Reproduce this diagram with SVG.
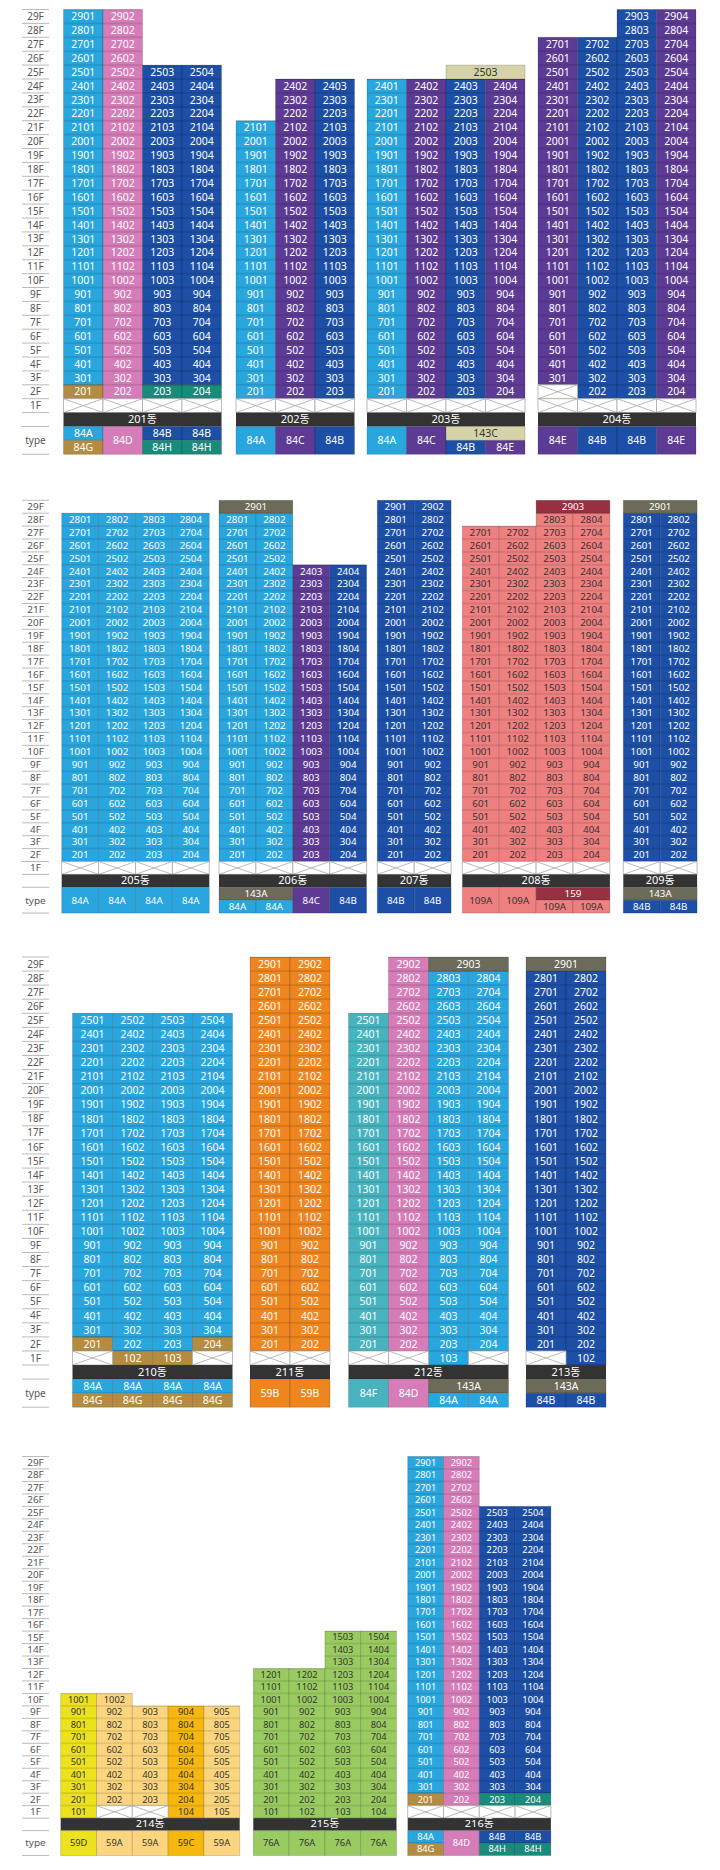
<svg xmlns="http://www.w3.org/2000/svg" width="720" height="1870" viewBox="0 0 720 1870">
<style>
text{font-family:"Noto Sans","Noto Sans CJK KR","Liberation Sans",sans-serif;font-size:10.5px;text-anchor:middle}
.s2 text{font-size:9.8px}
.s4 text{font-size:9.3px}
.w text{fill:#fff}
.k text{fill:#333}
.fl text{fill:#555;font-size:10px}
g text.bn{fill:#fff;font-size:11px}
g.b rect{stroke:#000;stroke-opacity:.2;stroke-width:.8;vector-effect:non-scaling-stroke}
g.b rect.ln{fill:url(#hl);stroke:none}
g.b rect.bar{fill:#333;stroke:none}
.lb{fill:#2aa6df}.pk{fill:#d67cb8}.db{fill:#1d4fa6}.pu{fill:#5d3b94}.gd{fill:#b38c41}.tl{fill:#178c7b}.bg{fill:#d5d3a7}.go{fill:#6c6a59}.sa{fill:#ef8080}.dr{fill:#973040}.or{fill:#ef851f}.tc{fill:#47b3bf}.ye{fill:#ece21e}.ly{fill:#fcd67e}.oy{fill:#f6b70f}.gr{fill:#9acb60}
</style>
<defs>
<pattern id="hl" patternUnits="userSpaceOnUse" width="10" height="14"><rect width="10" height="0.5" fill="#000" fill-opacity=".2"/><rect y="13.5" width="10" height="0.5" fill="#000" fill-opacity=".2"/></pattern>
<g id="x1" fill="#fff" stroke="#aaa" stroke-width=".8"><rect width="39.5" height="14" vector-effect="non-scaling-stroke"/><path d="M0 0L39.5 14M0 14L39.5 0" fill="none" vector-effect="non-scaling-stroke"/></g>
<g id="x2" fill="#fff" stroke="#aaa" stroke-width=".8"><rect width="36.9" height="14" vector-effect="non-scaling-stroke"/><path d="M0 0L36.9 14M0 14L36.9 0" fill="none" vector-effect="non-scaling-stroke"/></g>
<g id="x3" fill="#fff" stroke="#aaa" stroke-width=".8"><rect width="40" height="14" vector-effect="non-scaling-stroke"/><path d="M0 0L40 14M0 14L40 0" fill="none" vector-effect="non-scaling-stroke"/></g>
<g id="x4" fill="#fff" stroke="#aaa" stroke-width=".8"><rect width="35.8" height="14" vector-effect="non-scaling-stroke"/><path d="M0 0L35.8 14M0 14L35.8 0" fill="none" vector-effect="non-scaling-stroke"/></g>
<path id="fln" d="M22 0H49M22 14H49M22 28H49M22 42H49M22 56H49M22 70H49M22 84H49M22 98H49M22 112H49M22 126H49M22 140H49M22 154H49M22 168H49M22 182H49M22 196H49M22 210H49M22 224H49M22 238H49M22 252H49M22 266H49M22 280H49M22 294H49M22 308H49M22 322H49M22 336H49M22 350H49M22 364H49M22 378H49M22 392H49M22 406H49M22 420H49M22 448H49" stroke="#aaa" stroke-width=".8" fill="none" vector-effect="non-scaling-stroke"/>
</defs>
<rect width="720" height="1870" fill="#fff"/>
<g id="connectors"/>

<!-- SECTION 1 -->
<g class="s1" transform="translate(0,9.5) scale(1,.99286)">
<g id="floors1"><use href="#fln"/>
<g class="fl" transform="translate(35.5,3.6)"><text y="7">29F</text><text y="21">28F</text><text y="35">27F</text><text y="49">26F</text><text y="63">25F</text><text y="77">24F</text><text y="91">23F</text><text y="105">22F</text><text y="119">21F</text><text y="133">20F</text><text y="147">19F</text><text y="161">18F</text><text y="175">17F</text><text y="189">16F</text><text y="203">15F</text><text y="217">14F</text><text y="231">13F</text><text y="245">12F</text><text y="259">11F</text><text y="273">10F</text><text y="287">9F</text><text y="301">8F</text><text y="315">7F</text><text y="329">6F</text><text y="343">5F</text><text y="357">4F</text><text y="371">3F</text><text y="385">2F</text><text y="399">1F</text><text y="434">type</text></g></g>

<g id="b201" class="b">
<rect class="lb" x="63.5" y="0" width="39.5" height="378"/><rect class="gd" x="63.5" y="378" width="39.5" height="14"/>
<rect class="pk" x="103" y="0" width="39.5" height="392"/>
<rect class="db" x="142.5" y="56" width="39.5" height="322"/><rect class="tl" x="142.5" y="378" width="39.5" height="14"/>
<rect class="db" x="182" y="56" width="39.5" height="322"/><rect class="tl" x="182" y="378" width="39.5" height="14"/>
<rect class="ln" x="63.5" y="0" width="79" height="392"/><rect class="ln" x="142.5" y="56" width="79" height="336"/>
<use href="#x1" x="63.5" y="392"/><use href="#x1" x="103" y="392"/><use href="#x1" x="142.5" y="392"/><use href="#x1" x="182" y="392"/>
<rect class="bar" x="63.5" y="406" width="158" height="14"/>
<rect class="lb" x="63.5" y="420" width="39.5" height="14"/><rect class="gd" x="63.5" y="434" width="39.5" height="14"/>
<rect class="pk" x="103" y="420" width="39.5" height="28"/>
<rect class="db" x="142.5" y="420" width="39.5" height="14"/><rect class="tl" x="142.5" y="434" width="39.5" height="14"/>
<rect class="db" x="182" y="420" width="39.5" height="14"/><rect class="tl" x="182" y="434" width="39.5" height="14"/>
<g class="w" transform="translate(0,3.75)">
<g transform="translate(83.25,0)"><text y="7">2901</text><text y="21">2801</text><text y="35">2701</text><text y="49">2601</text><text y="63">2501</text><text y="77">2401</text><text y="91">2301</text><text y="105">2201</text><text y="119">2101</text><text y="133">2001</text><text y="147">1901</text><text y="161">1801</text><text y="175">1701</text><text y="189">1601</text><text y="203">1501</text><text y="217">1401</text><text y="231">1301</text><text y="245">1201</text><text y="259">1101</text><text y="273">1001</text><text y="287">901</text><text y="301">801</text><text y="315">701</text><text y="329">601</text><text y="343">501</text><text y="357">401</text><text y="371">301</text><text y="385">201</text><text y="427">84A</text><text y="441">84G</text></g>
<g transform="translate(122.75,0)"><text y="7">2902</text><text y="21">2802</text><text y="35">2702</text><text y="49">2602</text><text y="63">2502</text><text y="77">2402</text><text y="91">2302</text><text y="105">2202</text><text y="119">2102</text><text y="133">2002</text><text y="147">1902</text><text y="161">1802</text><text y="175">1702</text><text y="189">1602</text><text y="203">1502</text><text y="217">1402</text><text y="231">1302</text><text y="245">1202</text><text y="259">1102</text><text y="273">1002</text><text y="287">902</text><text y="301">802</text><text y="315">702</text><text y="329">602</text><text y="343">502</text><text y="357">402</text><text y="371">302</text><text y="385">202</text><text y="434">84D</text></g>
<g transform="translate(162.25,0)"><text y="63">2503</text><text y="77">2403</text><text y="91">2303</text><text y="105">2203</text><text y="119">2103</text><text y="133">2003</text><text y="147">1903</text><text y="161">1803</text><text y="175">1703</text><text y="189">1603</text><text y="203">1503</text><text y="217">1403</text><text y="231">1303</text><text y="245">1203</text><text y="259">1103</text><text y="273">1003</text><text y="287">903</text><text y="301">803</text><text y="315">703</text><text y="329">603</text><text y="343">503</text><text y="357">403</text><text y="371">303</text><text y="385">203</text><text y="427">84B</text><text y="441">84H</text></g>
<g transform="translate(201.75,0)"><text y="63">2504</text><text y="77">2404</text><text y="91">2304</text><text y="105">2204</text><text y="119">2104</text><text y="133">2004</text><text y="147">1904</text><text y="161">1804</text><text y="175">1704</text><text y="189">1604</text><text y="203">1504</text><text y="217">1404</text><text y="231">1304</text><text y="245">1204</text><text y="259">1104</text><text y="273">1004</text><text y="287">904</text><text y="301">804</text><text y="315">704</text><text y="329">604</text><text y="343">504</text><text y="357">404</text><text y="371">304</text><text y="385">204</text><text y="427">84B</text><text y="441">84H</text></g>
<text class="bn" x="142.5" y="413">201동</text>
</g></g>

<g id="b202" class="b">
<rect class="lb" x="236" y="112" width="39.5" height="280"/>
<rect class="pu" x="275.5" y="70" width="39.5" height="322"/>
<rect class="db" x="315" y="70" width="39.5" height="322"/>
<rect class="ln" x="236" y="112" width="39.5" height="280"/><rect class="ln" x="275.5" y="70" width="79" height="322"/>
<use href="#x1" x="236" y="392"/><use href="#x1" x="275.5" y="392"/><use href="#x1" x="315" y="392"/>
<rect class="bar" x="236" y="406" width="118.5" height="14"/>
<rect class="lb" x="236" y="420" width="39.5" height="28"/><rect class="pu" x="275.5" y="420" width="39.5" height="28"/><rect class="db" x="315" y="420" width="39.5" height="28"/>
<g class="w" transform="translate(0,3.75)">
<g transform="translate(255.75,0)"><text y="119">2101</text><text y="133">2001</text><text y="147">1901</text><text y="161">1801</text><text y="175">1701</text><text y="189">1601</text><text y="203">1501</text><text y="217">1401</text><text y="231">1301</text><text y="245">1201</text><text y="259">1101</text><text y="273">1001</text><text y="287">901</text><text y="301">801</text><text y="315">701</text><text y="329">601</text><text y="343">501</text><text y="357">401</text><text y="371">301</text><text y="385">201</text><text y="434">84A</text></g>
<g transform="translate(295.25,0)"><text y="77">2402</text><text y="91">2302</text><text y="105">2202</text><text y="119">2102</text><text y="133">2002</text><text y="147">1902</text><text y="161">1802</text><text y="175">1702</text><text y="189">1602</text><text y="203">1502</text><text y="217">1402</text><text y="231">1302</text><text y="245">1202</text><text y="259">1102</text><text y="273">1002</text><text y="287">902</text><text y="301">802</text><text y="315">702</text><text y="329">602</text><text y="343">502</text><text y="357">402</text><text y="371">302</text><text y="385">202</text><text y="434">84C</text></g>
<g transform="translate(334.75,0)"><text y="77">2403</text><text y="91">2303</text><text y="105">2203</text><text y="119">2103</text><text y="133">2003</text><text y="147">1903</text><text y="161">1803</text><text y="175">1703</text><text y="189">1603</text><text y="203">1503</text><text y="217">1403</text><text y="231">1303</text><text y="245">1203</text><text y="259">1103</text><text y="273">1003</text><text y="287">903</text><text y="301">803</text><text y="315">703</text><text y="329">603</text><text y="343">503</text><text y="357">403</text><text y="371">303</text><text y="385">203</text><text y="434">84B</text></g>
<text class="bn" x="295.25" y="413">202동</text>
</g></g>

<g id="b203" class="b">
<rect class="lb" x="367" y="70" width="39.5" height="322"/>
<rect class="pu" x="406.5" y="70" width="39.5" height="322"/>
<rect class="db" x="446" y="70" width="39.5" height="322"/>
<rect class="pu" x="485.5" y="70" width="39.5" height="322"/>
<rect class="bg" x="446" y="56" width="79" height="14"/>
<rect class="ln" x="367" y="70" width="158" height="322"/>
<use href="#x1" x="367" y="392"/><use href="#x1" x="406.5" y="392"/><use href="#x1" x="446" y="392"/><use href="#x1" x="485.5" y="392"/>
<rect class="bar" x="367" y="406" width="158" height="14"/>
<rect class="lb" x="367" y="420" width="39.5" height="28"/><rect class="pu" x="406.5" y="420" width="39.5" height="28"/>
<rect class="bg" x="446" y="420" width="79" height="14"/><rect class="db" x="446" y="434" width="39.5" height="14"/><rect class="pu" x="485.5" y="434" width="39.5" height="14"/>
<g class="w" transform="translate(0,3.75)">
<g transform="translate(386.75,0)"><text y="77">2401</text><text y="91">2301</text><text y="105">2201</text><text y="119">2101</text><text y="133">2001</text><text y="147">1901</text><text y="161">1801</text><text y="175">1701</text><text y="189">1601</text><text y="203">1501</text><text y="217">1401</text><text y="231">1301</text><text y="245">1201</text><text y="259">1101</text><text y="273">1001</text><text y="287">901</text><text y="301">801</text><text y="315">701</text><text y="329">601</text><text y="343">501</text><text y="357">401</text><text y="371">301</text><text y="385">201</text><text y="434">84A</text></g>
<g transform="translate(426.25,0)"><text y="77">2402</text><text y="91">2302</text><text y="105">2202</text><text y="119">2102</text><text y="133">2002</text><text y="147">1902</text><text y="161">1802</text><text y="175">1702</text><text y="189">1602</text><text y="203">1502</text><text y="217">1402</text><text y="231">1302</text><text y="245">1202</text><text y="259">1102</text><text y="273">1002</text><text y="287">902</text><text y="301">802</text><text y="315">702</text><text y="329">602</text><text y="343">502</text><text y="357">402</text><text y="371">302</text><text y="385">202</text><text y="434">84C</text></g>
<g transform="translate(465.75,0)"><text y="77">2403</text><text y="91">2303</text><text y="105">2203</text><text y="119">2103</text><text y="133">2003</text><text y="147">1903</text><text y="161">1803</text><text y="175">1703</text><text y="189">1603</text><text y="203">1503</text><text y="217">1403</text><text y="231">1303</text><text y="245">1203</text><text y="259">1103</text><text y="273">1003</text><text y="287">903</text><text y="301">803</text><text y="315">703</text><text y="329">603</text><text y="343">503</text><text y="357">403</text><text y="371">303</text><text y="385">203</text><text y="441">84B</text></g>
<g transform="translate(505.25,0)"><text y="77">2404</text><text y="91">2304</text><text y="105">2204</text><text y="119">2104</text><text y="133">2004</text><text y="147">1904</text><text y="161">1804</text><text y="175">1704</text><text y="189">1604</text><text y="203">1504</text><text y="217">1404</text><text y="231">1304</text><text y="245">1204</text><text y="259">1104</text><text y="273">1004</text><text y="287">904</text><text y="301">804</text><text y="315">704</text><text y="329">604</text><text y="343">504</text><text y="357">404</text><text y="371">304</text><text y="385">204</text><text y="441">84E</text></g>
<text class="bn" x="446" y="413">203동</text>
</g>
<g class="k" transform="translate(485.5,3.75)"><text y="63">2503</text><text y="427">143C</text></g>
</g>

<g id="b204" class="b">
<rect class="pu" x="538" y="28" width="39.5" height="350"/>
<rect class="db" x="577.5" y="28" width="39.5" height="364"/>
<rect class="db" x="617" y="0" width="39.5" height="392"/>
<rect class="pu" x="656.5" y="0" width="39.5" height="392"/>
<rect class="ln" x="538" y="28" width="79" height="364"/><rect class="ln" x="617" y="0" width="79" height="392"/>
<use href="#x1" x="538" y="378"/><use href="#x1" x="538" y="392"/><use href="#x1" x="577.5" y="392"/><use href="#x1" x="617" y="392"/><use href="#x1" x="656.5" y="392"/>
<rect class="bar" x="538" y="406" width="158" height="14"/>
<rect class="pu" x="538" y="420" width="39.5" height="28"/><rect class="db" x="577.5" y="420" width="39.5" height="28"/><rect class="db" x="617" y="420" width="39.5" height="28"/><rect class="pu" x="656.5" y="420" width="39.5" height="28"/>
<g class="w" transform="translate(0,3.75)">
<g transform="translate(557.75,0)"><text y="35">2701</text><text y="49">2601</text><text y="63">2501</text><text y="77">2401</text><text y="91">2301</text><text y="105">2201</text><text y="119">2101</text><text y="133">2001</text><text y="147">1901</text><text y="161">1801</text><text y="175">1701</text><text y="189">1601</text><text y="203">1501</text><text y="217">1401</text><text y="231">1301</text><text y="245">1201</text><text y="259">1101</text><text y="273">1001</text><text y="287">901</text><text y="301">801</text><text y="315">701</text><text y="329">601</text><text y="343">501</text><text y="357">401</text><text y="371">301</text><text y="434">84E</text></g>
<g transform="translate(597.25,0)"><text y="35">2702</text><text y="49">2602</text><text y="63">2502</text><text y="77">2402</text><text y="91">2302</text><text y="105">2202</text><text y="119">2102</text><text y="133">2002</text><text y="147">1902</text><text y="161">1802</text><text y="175">1702</text><text y="189">1602</text><text y="203">1502</text><text y="217">1402</text><text y="231">1302</text><text y="245">1202</text><text y="259">1102</text><text y="273">1002</text><text y="287">902</text><text y="301">802</text><text y="315">702</text><text y="329">602</text><text y="343">502</text><text y="357">402</text><text y="371">302</text><text y="385">202</text><text y="434">84B</text></g>
<g transform="translate(636.75,0)"><text y="7">2903</text><text y="21">2803</text><text y="35">2703</text><text y="49">2603</text><text y="63">2503</text><text y="77">2403</text><text y="91">2303</text><text y="105">2203</text><text y="119">2103</text><text y="133">2003</text><text y="147">1903</text><text y="161">1803</text><text y="175">1703</text><text y="189">1603</text><text y="203">1503</text><text y="217">1403</text><text y="231">1303</text><text y="245">1203</text><text y="259">1103</text><text y="273">1003</text><text y="287">903</text><text y="301">803</text><text y="315">703</text><text y="329">603</text><text y="343">503</text><text y="357">403</text><text y="371">303</text><text y="385">203</text><text y="434">84B</text></g>
<g transform="translate(676.25,0)"><text y="7">2904</text><text y="21">2804</text><text y="35">2704</text><text y="49">2604</text><text y="63">2504</text><text y="77">2404</text><text y="91">2304</text><text y="105">2204</text><text y="119">2104</text><text y="133">2004</text><text y="147">1904</text><text y="161">1804</text><text y="175">1704</text><text y="189">1604</text><text y="203">1504</text><text y="217">1404</text><text y="231">1304</text><text y="245">1204</text><text y="259">1104</text><text y="273">1004</text><text y="287">904</text><text y="301">804</text><text y="315">704</text><text y="329">604</text><text y="343">504</text><text y="357">404</text><text y="371">304</text><text y="385">204</text><text y="434">84E</text></g>
<text class="bn" x="617" y="413">204동</text>
</g></g>
</g>

<!-- SECTION 2 -->
<g class="s2" transform="translate(0,500.3) scale(1,.92143)">
<g id="floors2"><use href="#fln"/>
<g class="fl" transform="translate(35.5,3.6)"><text y="7">29F</text><text y="21">28F</text><text y="35">27F</text><text y="49">26F</text><text y="63">25F</text><text y="77">24F</text><text y="91">23F</text><text y="105">22F</text><text y="119">21F</text><text y="133">20F</text><text y="147">19F</text><text y="161">18F</text><text y="175">17F</text><text y="189">16F</text><text y="203">15F</text><text y="217">14F</text><text y="231">13F</text><text y="245">12F</text><text y="259">11F</text><text y="273">10F</text><text y="287">9F</text><text y="301">8F</text><text y="315">7F</text><text y="329">6F</text><text y="343">5F</text><text y="357">4F</text><text y="371">3F</text><text y="385">2F</text><text y="399">1F</text><text y="434">type</text></g></g>

<g id="b205" class="b">
<rect class="lb" x="61.7" y="14" width="36.9" height="378"/><rect class="lb" x="98.6" y="14" width="36.9" height="378"/><rect class="lb" x="135.5" y="14" width="36.9" height="378"/><rect class="lb" x="172.4" y="14" width="36.9" height="378"/>
<rect class="ln" x="61.7" y="14" width="147.6" height="378"/>
<use href="#x2" x="61.7" y="392"/><use href="#x2" x="98.6" y="392"/><use href="#x2" x="135.5" y="392"/><use href="#x2" x="172.4" y="392"/>
<rect class="bar" x="61.7" y="406" width="147.6" height="14"/>
<rect class="lb" x="61.7" y="420" width="36.9" height="28"/><rect class="lb" x="98.6" y="420" width="36.9" height="28"/><rect class="lb" x="135.5" y="420" width="36.9" height="28"/><rect class="lb" x="172.4" y="420" width="36.9" height="28"/>
<g class="w" transform="translate(0,3.6)">
<g transform="translate(80.15,0)"><text y="21">2801</text><text y="35">2701</text><text y="49">2601</text><text y="63">2501</text><text y="77">2401</text><text y="91">2301</text><text y="105">2201</text><text y="119">2101</text><text y="133">2001</text><text y="147">1901</text><text y="161">1801</text><text y="175">1701</text><text y="189">1601</text><text y="203">1501</text><text y="217">1401</text><text y="231">1301</text><text y="245">1201</text><text y="259">1101</text><text y="273">1001</text><text y="287">901</text><text y="301">801</text><text y="315">701</text><text y="329">601</text><text y="343">501</text><text y="357">401</text><text y="371">301</text><text y="385">201</text><text y="434">84A</text></g>
<g transform="translate(117.05,0)"><text y="21">2802</text><text y="35">2702</text><text y="49">2602</text><text y="63">2502</text><text y="77">2402</text><text y="91">2302</text><text y="105">2202</text><text y="119">2102</text><text y="133">2002</text><text y="147">1902</text><text y="161">1802</text><text y="175">1702</text><text y="189">1602</text><text y="203">1502</text><text y="217">1402</text><text y="231">1302</text><text y="245">1202</text><text y="259">1102</text><text y="273">1002</text><text y="287">902</text><text y="301">802</text><text y="315">702</text><text y="329">602</text><text y="343">502</text><text y="357">402</text><text y="371">302</text><text y="385">202</text><text y="434">84A</text></g>
<g transform="translate(153.95,0)"><text y="21">2803</text><text y="35">2703</text><text y="49">2603</text><text y="63">2503</text><text y="77">2403</text><text y="91">2303</text><text y="105">2203</text><text y="119">2103</text><text y="133">2003</text><text y="147">1903</text><text y="161">1803</text><text y="175">1703</text><text y="189">1603</text><text y="203">1503</text><text y="217">1403</text><text y="231">1303</text><text y="245">1203</text><text y="259">1103</text><text y="273">1003</text><text y="287">903</text><text y="301">803</text><text y="315">703</text><text y="329">603</text><text y="343">503</text><text y="357">403</text><text y="371">303</text><text y="385">203</text><text y="434">84A</text></g>
<g transform="translate(190.85,0)"><text y="21">2804</text><text y="35">2704</text><text y="49">2604</text><text y="63">2504</text><text y="77">2404</text><text y="91">2304</text><text y="105">2204</text><text y="119">2104</text><text y="133">2004</text><text y="147">1904</text><text y="161">1804</text><text y="175">1704</text><text y="189">1604</text><text y="203">1504</text><text y="217">1404</text><text y="231">1304</text><text y="245">1204</text><text y="259">1104</text><text y="273">1004</text><text y="287">904</text><text y="301">804</text><text y="315">704</text><text y="329">604</text><text y="343">504</text><text y="357">404</text><text y="371">304</text><text y="385">204</text><text y="434">84A</text></g>
<text class="bn" x="135.5" y="413">205동</text>
</g></g>

<g id="b206" class="b">
<rect class="lb" x="219" y="14" width="36.9" height="378"/><rect class="lb" x="255.9" y="14" width="36.9" height="378"/>
<rect class="go" x="219" y="0" width="73.8" height="14"/>
<rect class="pu" x="292.8" y="70" width="36.9" height="322"/><rect class="db" x="329.7" y="70" width="36.9" height="322"/>
<rect class="ln" x="219" y="14" width="73.8" height="378"/><rect class="ln" x="292.8" y="70" width="73.8" height="322"/>
<use href="#x2" x="219" y="392"/><use href="#x2" x="255.9" y="392"/><use href="#x2" x="292.8" y="392"/><use href="#x2" x="329.7" y="392"/>
<rect class="bar" x="219" y="406" width="147.6" height="14"/>
<rect class="go" x="219" y="420" width="73.8" height="14"/><rect class="lb" x="219" y="434" width="36.9" height="14"/><rect class="lb" x="255.9" y="434" width="36.9" height="14"/>
<rect class="pu" x="292.8" y="420" width="36.9" height="28"/><rect class="db" x="329.7" y="420" width="36.9" height="28"/>
<g class="w" transform="translate(0,3.6)">
<g transform="translate(237.45,0)"><text y="21">2801</text><text y="35">2701</text><text y="49">2601</text><text y="63">2501</text><text y="77">2401</text><text y="91">2301</text><text y="105">2201</text><text y="119">2101</text><text y="133">2001</text><text y="147">1901</text><text y="161">1801</text><text y="175">1701</text><text y="189">1601</text><text y="203">1501</text><text y="217">1401</text><text y="231">1301</text><text y="245">1201</text><text y="259">1101</text><text y="273">1001</text><text y="287">901</text><text y="301">801</text><text y="315">701</text><text y="329">601</text><text y="343">501</text><text y="357">401</text><text y="371">301</text><text y="385">201</text><text y="441">84A</text></g>
<g transform="translate(274.35,0)"><text y="21">2802</text><text y="35">2702</text><text y="49">2602</text><text y="63">2502</text><text y="77">2402</text><text y="91">2302</text><text y="105">2202</text><text y="119">2102</text><text y="133">2002</text><text y="147">1902</text><text y="161">1802</text><text y="175">1702</text><text y="189">1602</text><text y="203">1502</text><text y="217">1402</text><text y="231">1302</text><text y="245">1202</text><text y="259">1102</text><text y="273">1002</text><text y="287">902</text><text y="301">802</text><text y="315">702</text><text y="329">602</text><text y="343">502</text><text y="357">402</text><text y="371">302</text><text y="385">202</text><text y="441">84A</text></g>
<g transform="translate(255.9,0)"><text y="7">2901</text><text y="427">143A</text></g>
<g transform="translate(311.25,0)"><text y="77">2403</text><text y="91">2303</text><text y="105">2203</text><text y="119">2103</text><text y="133">2003</text><text y="147">1903</text><text y="161">1803</text><text y="175">1703</text><text y="189">1603</text><text y="203">1503</text><text y="217">1403</text><text y="231">1303</text><text y="245">1203</text><text y="259">1103</text><text y="273">1003</text><text y="287">903</text><text y="301">803</text><text y="315">703</text><text y="329">603</text><text y="343">503</text><text y="357">403</text><text y="371">303</text><text y="385">203</text><text y="434">84C</text></g>
<g transform="translate(348.15,0)"><text y="77">2404</text><text y="91">2304</text><text y="105">2204</text><text y="119">2104</text><text y="133">2004</text><text y="147">1904</text><text y="161">1804</text><text y="175">1704</text><text y="189">1604</text><text y="203">1504</text><text y="217">1404</text><text y="231">1304</text><text y="245">1204</text><text y="259">1104</text><text y="273">1004</text><text y="287">904</text><text y="301">804</text><text y="315">704</text><text y="329">604</text><text y="343">504</text><text y="357">404</text><text y="371">304</text><text y="385">204</text><text y="434">84B</text></g>
<text class="bn" x="292.8" y="413">206동</text>
</g></g>

<g id="b207" class="b">
<rect class="db" x="377.3" y="0" width="36.9" height="392"/><rect class="db" x="414.2" y="0" width="36.9" height="392"/>
<rect class="ln" x="377.3" y="0" width="73.8" height="392"/>
<use href="#x2" x="377.3" y="392"/><use href="#x2" x="414.2" y="392"/>
<rect class="bar" x="377.3" y="406" width="73.8" height="14"/>
<rect class="db" x="377.3" y="420" width="36.9" height="28"/><rect class="db" x="414.2" y="420" width="36.9" height="28"/>
<g class="w" transform="translate(0,3.6)">
<g transform="translate(395.75,0)"><text y="7">2901</text><text y="21">2801</text><text y="35">2701</text><text y="49">2601</text><text y="63">2501</text><text y="77">2401</text><text y="91">2301</text><text y="105">2201</text><text y="119">2101</text><text y="133">2001</text><text y="147">1901</text><text y="161">1801</text><text y="175">1701</text><text y="189">1601</text><text y="203">1501</text><text y="217">1401</text><text y="231">1301</text><text y="245">1201</text><text y="259">1101</text><text y="273">1001</text><text y="287">901</text><text y="301">801</text><text y="315">701</text><text y="329">601</text><text y="343">501</text><text y="357">401</text><text y="371">301</text><text y="385">201</text><text y="434">84B</text></g>
<g transform="translate(432.65,0)"><text y="7">2902</text><text y="21">2802</text><text y="35">2702</text><text y="49">2602</text><text y="63">2502</text><text y="77">2402</text><text y="91">2302</text><text y="105">2202</text><text y="119">2102</text><text y="133">2002</text><text y="147">1902</text><text y="161">1802</text><text y="175">1702</text><text y="189">1602</text><text y="203">1502</text><text y="217">1402</text><text y="231">1302</text><text y="245">1202</text><text y="259">1102</text><text y="273">1002</text><text y="287">902</text><text y="301">802</text><text y="315">702</text><text y="329">602</text><text y="343">502</text><text y="357">402</text><text y="371">302</text><text y="385">202</text><text y="434">84B</text></g>
<text class="bn" x="414.2" y="413">207동</text>
</g></g>

<g id="b208" class="b">
<rect class="sa" x="462.3" y="28" width="36.9" height="364"/><rect class="sa" x="499.2" y="28" width="36.9" height="364"/>
<rect class="sa" x="536.1" y="14" width="36.9" height="378"/><rect class="sa" x="573" y="14" width="36.9" height="378"/>
<rect class="dr" x="536.1" y="0" width="73.8" height="14"/>
<rect class="ln" x="462.3" y="28" width="73.8" height="364"/><rect class="ln" x="536.1" y="14" width="73.8" height="378"/>
<use href="#x2" x="462.3" y="392"/><use href="#x2" x="499.2" y="392"/><use href="#x2" x="536.1" y="392"/><use href="#x2" x="573" y="392"/>
<rect class="bar" x="462.3" y="406" width="147.6" height="14"/>
<rect class="sa" x="462.3" y="420" width="36.9" height="28"/><rect class="sa" x="499.2" y="420" width="36.9" height="28"/>
<rect class="dr" x="536.1" y="420" width="73.8" height="14"/><rect class="sa" x="536.1" y="434" width="36.9" height="14"/><rect class="sa" x="573" y="434" width="36.9" height="14"/>
<g class="k" transform="translate(0,3.6)">
<g transform="translate(480.75,0)"><text y="35">2701</text><text y="49">2601</text><text y="63">2501</text><text y="77">2401</text><text y="91">2301</text><text y="105">2201</text><text y="119">2101</text><text y="133">2001</text><text y="147">1901</text><text y="161">1801</text><text y="175">1701</text><text y="189">1601</text><text y="203">1501</text><text y="217">1401</text><text y="231">1301</text><text y="245">1201</text><text y="259">1101</text><text y="273">1001</text><text y="287">901</text><text y="301">801</text><text y="315">701</text><text y="329">601</text><text y="343">501</text><text y="357">401</text><text y="371">301</text><text y="385">201</text><text y="434">109A</text></g>
<g transform="translate(517.65,0)"><text y="35">2702</text><text y="49">2602</text><text y="63">2502</text><text y="77">2402</text><text y="91">2302</text><text y="105">2202</text><text y="119">2102</text><text y="133">2002</text><text y="147">1902</text><text y="161">1802</text><text y="175">1702</text><text y="189">1602</text><text y="203">1502</text><text y="217">1402</text><text y="231">1302</text><text y="245">1202</text><text y="259">1102</text><text y="273">1002</text><text y="287">902</text><text y="301">802</text><text y="315">702</text><text y="329">602</text><text y="343">502</text><text y="357">402</text><text y="371">302</text><text y="385">202</text><text y="434">109A</text></g>
<g transform="translate(554.55,0)"><text y="21">2803</text><text y="35">2703</text><text y="49">2603</text><text y="63">2503</text><text y="77">2403</text><text y="91">2303</text><text y="105">2203</text><text y="119">2103</text><text y="133">2003</text><text y="147">1903</text><text y="161">1803</text><text y="175">1703</text><text y="189">1603</text><text y="203">1503</text><text y="217">1403</text><text y="231">1303</text><text y="245">1203</text><text y="259">1103</text><text y="273">1003</text><text y="287">903</text><text y="301">803</text><text y="315">703</text><text y="329">603</text><text y="343">503</text><text y="357">403</text><text y="371">303</text><text y="385">203</text><text y="441">109A</text></g>
<g transform="translate(591.45,0)"><text y="21">2804</text><text y="35">2704</text><text y="49">2604</text><text y="63">2504</text><text y="77">2404</text><text y="91">2304</text><text y="105">2204</text><text y="119">2104</text><text y="133">2004</text><text y="147">1904</text><text y="161">1804</text><text y="175">1704</text><text y="189">1604</text><text y="203">1504</text><text y="217">1404</text><text y="231">1304</text><text y="245">1204</text><text y="259">1104</text><text y="273">1004</text><text y="287">904</text><text y="301">804</text><text y="315">704</text><text y="329">604</text><text y="343">504</text><text y="357">404</text><text y="371">304</text><text y="385">204</text><text y="441">109A</text></g>
</g>
<g class="w" transform="translate(0,3.6)"><text x="573" y="7">2903</text><text x="573" y="427">159</text><text class="bn" x="536.1" y="413">208동</text></g>
</g>

<g id="b209" class="b">
<rect class="db" x="623.3" y="14" width="36.9" height="378"/><rect class="db" x="660.2" y="14" width="36.9" height="378"/>
<rect class="go" x="623.3" y="0" width="73.8" height="14"/>
<rect class="ln" x="623.3" y="14" width="73.8" height="378"/>
<use href="#x2" x="623.3" y="392"/><use href="#x2" x="660.2" y="392"/>
<rect class="bar" x="623.3" y="406" width="73.8" height="14"/>
<rect class="go" x="623.3" y="420" width="73.8" height="14"/><rect class="db" x="623.3" y="434" width="36.9" height="14"/><rect class="db" x="660.2" y="434" width="36.9" height="14"/>
<g class="w" transform="translate(0,3.6)">
<g transform="translate(641.75,0)"><text y="21">2801</text><text y="35">2701</text><text y="49">2601</text><text y="63">2501</text><text y="77">2401</text><text y="91">2301</text><text y="105">2201</text><text y="119">2101</text><text y="133">2001</text><text y="147">1901</text><text y="161">1801</text><text y="175">1701</text><text y="189">1601</text><text y="203">1501</text><text y="217">1401</text><text y="231">1301</text><text y="245">1201</text><text y="259">1101</text><text y="273">1001</text><text y="287">901</text><text y="301">801</text><text y="315">701</text><text y="329">601</text><text y="343">501</text><text y="357">401</text><text y="371">301</text><text y="385">201</text><text y="441">84B</text></g>
<g transform="translate(678.65,0)"><text y="21">2802</text><text y="35">2702</text><text y="49">2602</text><text y="63">2502</text><text y="77">2402</text><text y="91">2302</text><text y="105">2202</text><text y="119">2102</text><text y="133">2002</text><text y="147">1902</text><text y="161">1802</text><text y="175">1702</text><text y="189">1602</text><text y="203">1502</text><text y="217">1402</text><text y="231">1302</text><text y="245">1202</text><text y="259">1102</text><text y="273">1002</text><text y="287">902</text><text y="301">802</text><text y="315">702</text><text y="329">602</text><text y="343">502</text><text y="357">402</text><text y="371">302</text><text y="385">202</text><text y="441">84B</text></g>
<g transform="translate(660.2,0)"><text y="7">2901</text><text y="427">143A</text></g>
<text class="bn" x="660.2" y="413">209동</text>
</g></g>
</g>

<!-- SECTION 3 -->
<g class="s3" transform="translate(0,957) scale(1,1.005)">
<g id="floors3"><use href="#fln"/>
<g class="fl" transform="translate(35.5,3.6)"><text y="7">29F</text><text y="21">28F</text><text y="35">27F</text><text y="49">26F</text><text y="63">25F</text><text y="77">24F</text><text y="91">23F</text><text y="105">22F</text><text y="119">21F</text><text y="133">20F</text><text y="147">19F</text><text y="161">18F</text><text y="175">17F</text><text y="189">16F</text><text y="203">15F</text><text y="217">14F</text><text y="231">13F</text><text y="245">12F</text><text y="259">11F</text><text y="273">10F</text><text y="287">9F</text><text y="301">8F</text><text y="315">7F</text><text y="329">6F</text><text y="343">5F</text><text y="357">4F</text><text y="371">3F</text><text y="385">2F</text><text y="399">1F</text><text y="434">type</text></g></g>

<g id="b210" class="b">
<rect class="lb" x="72.5" y="56" width="40" height="322"/><rect class="gd" x="72.5" y="378" width="40" height="14"/>
<rect class="lb" x="112.5" y="56" width="40" height="336"/><rect class="gd" x="112.5" y="392" width="40" height="14"/>
<rect class="lb" x="152.5" y="56" width="40" height="336"/><rect class="gd" x="152.5" y="392" width="40" height="14"/>
<rect class="lb" x="192.5" y="56" width="40" height="322"/><rect class="gd" x="192.5" y="378" width="40" height="14"/>
<rect class="ln" x="72.5" y="56" width="160" height="336"/>
<use href="#x3" x="72.5" y="392"/><use href="#x3" x="192.5" y="392"/>
<rect class="bar" x="72.5" y="406" width="160" height="14"/>
<rect class="lb" x="72.5" y="420" width="40" height="14"/><rect class="lb" x="112.5" y="420" width="40" height="14"/><rect class="lb" x="152.5" y="420" width="40" height="14"/><rect class="lb" x="192.5" y="420" width="40" height="14"/>
<rect class="gd" x="72.5" y="434" width="40" height="14"/><rect class="gd" x="112.5" y="434" width="40" height="14"/><rect class="gd" x="152.5" y="434" width="40" height="14"/><rect class="gd" x="192.5" y="434" width="40" height="14"/>
<g class="w" transform="translate(0,3.75)">
<g transform="translate(92.5,0)"><text y="63">2501</text><text y="77">2401</text><text y="91">2301</text><text y="105">2201</text><text y="119">2101</text><text y="133">2001</text><text y="147">1901</text><text y="161">1801</text><text y="175">1701</text><text y="189">1601</text><text y="203">1501</text><text y="217">1401</text><text y="231">1301</text><text y="245">1201</text><text y="259">1101</text><text y="273">1001</text><text y="287">901</text><text y="301">801</text><text y="315">701</text><text y="329">601</text><text y="343">501</text><text y="357">401</text><text y="371">301</text><text y="385">201</text><text y="427">84A</text><text y="441">84G</text></g>
<g transform="translate(132.5,0)"><text y="63">2502</text><text y="77">2402</text><text y="91">2302</text><text y="105">2202</text><text y="119">2102</text><text y="133">2002</text><text y="147">1902</text><text y="161">1802</text><text y="175">1702</text><text y="189">1602</text><text y="203">1502</text><text y="217">1402</text><text y="231">1302</text><text y="245">1202</text><text y="259">1102</text><text y="273">1002</text><text y="287">902</text><text y="301">802</text><text y="315">702</text><text y="329">602</text><text y="343">502</text><text y="357">402</text><text y="371">302</text><text y="385">202</text><text y="399">102</text><text y="427">84A</text><text y="441">84G</text></g>
<g transform="translate(172.5,0)"><text y="63">2503</text><text y="77">2403</text><text y="91">2303</text><text y="105">2203</text><text y="119">2103</text><text y="133">2003</text><text y="147">1903</text><text y="161">1803</text><text y="175">1703</text><text y="189">1603</text><text y="203">1503</text><text y="217">1403</text><text y="231">1303</text><text y="245">1203</text><text y="259">1103</text><text y="273">1003</text><text y="287">903</text><text y="301">803</text><text y="315">703</text><text y="329">603</text><text y="343">503</text><text y="357">403</text><text y="371">303</text><text y="385">203</text><text y="399">103</text><text y="427">84A</text><text y="441">84G</text></g>
<g transform="translate(212.5,0)"><text y="63">2504</text><text y="77">2404</text><text y="91">2304</text><text y="105">2204</text><text y="119">2104</text><text y="133">2004</text><text y="147">1904</text><text y="161">1804</text><text y="175">1704</text><text y="189">1604</text><text y="203">1504</text><text y="217">1404</text><text y="231">1304</text><text y="245">1204</text><text y="259">1104</text><text y="273">1004</text><text y="287">904</text><text y="301">804</text><text y="315">704</text><text y="329">604</text><text y="343">504</text><text y="357">404</text><text y="371">304</text><text y="385">204</text><text y="427">84A</text><text y="441">84G</text></g>
<text class="bn" x="152.5" y="413">210동</text>
</g></g>

<g id="b211" class="b">
<rect class="or" x="250" y="0" width="40" height="392"/><rect class="or" x="290" y="0" width="40" height="392"/>
<rect class="ln" x="250" y="0" width="80" height="392"/>
<use href="#x3" x="250" y="392"/><use href="#x3" x="290" y="392"/>
<rect class="bar" x="250" y="406" width="80" height="14"/>
<rect class="or" x="250" y="420" width="40" height="28"/><rect class="or" x="290" y="420" width="40" height="28"/>
<g class="w" transform="translate(0,3.75)">
<g transform="translate(270,0)"><text y="7">2901</text><text y="21">2801</text><text y="35">2701</text><text y="49">2601</text><text y="63">2501</text><text y="77">2401</text><text y="91">2301</text><text y="105">2201</text><text y="119">2101</text><text y="133">2001</text><text y="147">1901</text><text y="161">1801</text><text y="175">1701</text><text y="189">1601</text><text y="203">1501</text><text y="217">1401</text><text y="231">1301</text><text y="245">1201</text><text y="259">1101</text><text y="273">1001</text><text y="287">901</text><text y="301">801</text><text y="315">701</text><text y="329">601</text><text y="343">501</text><text y="357">401</text><text y="371">301</text><text y="385">201</text><text y="434">59B</text></g>
<g transform="translate(310,0)"><text y="7">2902</text><text y="21">2802</text><text y="35">2702</text><text y="49">2602</text><text y="63">2502</text><text y="77">2402</text><text y="91">2302</text><text y="105">2202</text><text y="119">2102</text><text y="133">2002</text><text y="147">1902</text><text y="161">1802</text><text y="175">1702</text><text y="189">1602</text><text y="203">1502</text><text y="217">1402</text><text y="231">1302</text><text y="245">1202</text><text y="259">1102</text><text y="273">1002</text><text y="287">902</text><text y="301">802</text><text y="315">702</text><text y="329">602</text><text y="343">502</text><text y="357">402</text><text y="371">302</text><text y="385">202</text><text y="434">59B</text></g>
<text class="bn" x="290" y="413">211동</text>
</g></g>

<g id="b212" class="b">
<rect class="tc" x="348.5" y="56" width="40" height="336"/>
<rect class="pk" x="388.5" y="0" width="40" height="392"/>
<rect class="lb" x="428.5" y="14" width="40" height="392"/>
<rect class="lb" x="468.5" y="14" width="40" height="378"/>
<rect class="go" x="428.5" y="0" width="80" height="14"/>
<rect class="ln" x="348.5" y="56" width="40" height="336"/><rect class="ln" x="388.5" y="0" width="40" height="392"/><rect class="ln" x="428.5" y="14" width="80" height="392"/>
<use href="#x3" x="348.5" y="392"/><use href="#x3" x="388.5" y="392"/><use href="#x3" x="468.5" y="392"/>
<rect class="bar" x="348.5" y="406" width="160" height="14"/>
<rect class="tc" x="348.5" y="420" width="40" height="28"/><rect class="pk" x="388.5" y="420" width="40" height="28"/>
<rect class="go" x="428.5" y="420" width="80" height="14"/><rect class="lb" x="428.5" y="434" width="40" height="14"/><rect class="lb" x="468.5" y="434" width="40" height="14"/>
<g class="w" transform="translate(0,3.75)">
<g transform="translate(368.5,0)"><text y="63">2501</text><text y="77">2401</text><text y="91">2301</text><text y="105">2201</text><text y="119">2101</text><text y="133">2001</text><text y="147">1901</text><text y="161">1801</text><text y="175">1701</text><text y="189">1601</text><text y="203">1501</text><text y="217">1401</text><text y="231">1301</text><text y="245">1201</text><text y="259">1101</text><text y="273">1001</text><text y="287">901</text><text y="301">801</text><text y="315">701</text><text y="329">601</text><text y="343">501</text><text y="357">401</text><text y="371">301</text><text y="385">201</text><text y="434">84F</text></g>
<g transform="translate(408.5,0)"><text y="7">2902</text><text y="21">2802</text><text y="35">2702</text><text y="49">2602</text><text y="63">2502</text><text y="77">2402</text><text y="91">2302</text><text y="105">2202</text><text y="119">2102</text><text y="133">2002</text><text y="147">1902</text><text y="161">1802</text><text y="175">1702</text><text y="189">1602</text><text y="203">1502</text><text y="217">1402</text><text y="231">1302</text><text y="245">1202</text><text y="259">1102</text><text y="273">1002</text><text y="287">902</text><text y="301">802</text><text y="315">702</text><text y="329">602</text><text y="343">502</text><text y="357">402</text><text y="371">302</text><text y="385">202</text><text y="434">84D</text></g>
<g transform="translate(448.5,0)"><text y="21">2803</text><text y="35">2703</text><text y="49">2603</text><text y="63">2503</text><text y="77">2403</text><text y="91">2303</text><text y="105">2203</text><text y="119">2103</text><text y="133">2003</text><text y="147">1903</text><text y="161">1803</text><text y="175">1703</text><text y="189">1603</text><text y="203">1503</text><text y="217">1403</text><text y="231">1303</text><text y="245">1203</text><text y="259">1103</text><text y="273">1003</text><text y="287">903</text><text y="301">803</text><text y="315">703</text><text y="329">603</text><text y="343">503</text><text y="357">403</text><text y="371">303</text><text y="385">203</text><text y="399">103</text><text y="441">84A</text></g>
<g transform="translate(488.5,0)"><text y="21">2804</text><text y="35">2704</text><text y="49">2604</text><text y="63">2504</text><text y="77">2404</text><text y="91">2304</text><text y="105">2204</text><text y="119">2104</text><text y="133">2004</text><text y="147">1904</text><text y="161">1804</text><text y="175">1704</text><text y="189">1604</text><text y="203">1504</text><text y="217">1404</text><text y="231">1304</text><text y="245">1204</text><text y="259">1104</text><text y="273">1004</text><text y="287">904</text><text y="301">804</text><text y="315">704</text><text y="329">604</text><text y="343">504</text><text y="357">404</text><text y="371">304</text><text y="385">204</text><text y="441">84A</text></g>
<g transform="translate(468.5,0)"><text y="7">2903</text><text y="427">143A</text></g>
<text class="bn" x="428.5" y="413">212동</text>
</g></g>

<g id="b213" class="b">
<rect class="db" x="526" y="14" width="40" height="378"/><rect class="db" x="566" y="14" width="40" height="392"/>
<rect class="go" x="526" y="0" width="80" height="14"/>
<rect class="ln" x="526" y="14" width="80" height="392"/>
<use href="#x3" x="526" y="392"/>
<rect class="bar" x="526" y="406" width="80" height="14"/>
<rect class="go" x="526" y="420" width="80" height="14"/><rect class="db" x="526" y="434" width="40" height="14"/><rect class="db" x="566" y="434" width="40" height="14"/>
<g class="w" transform="translate(0,3.75)">
<g transform="translate(546,0)"><text y="21">2801</text><text y="35">2701</text><text y="49">2601</text><text y="63">2501</text><text y="77">2401</text><text y="91">2301</text><text y="105">2201</text><text y="119">2101</text><text y="133">2001</text><text y="147">1901</text><text y="161">1801</text><text y="175">1701</text><text y="189">1601</text><text y="203">1501</text><text y="217">1401</text><text y="231">1301</text><text y="245">1201</text><text y="259">1101</text><text y="273">1001</text><text y="287">901</text><text y="301">801</text><text y="315">701</text><text y="329">601</text><text y="343">501</text><text y="357">401</text><text y="371">301</text><text y="385">201</text><text y="441">84B</text></g>
<g transform="translate(586,0)"><text y="21">2802</text><text y="35">2702</text><text y="49">2602</text><text y="63">2502</text><text y="77">2402</text><text y="91">2302</text><text y="105">2202</text><text y="119">2102</text><text y="133">2002</text><text y="147">1902</text><text y="161">1802</text><text y="175">1702</text><text y="189">1602</text><text y="203">1502</text><text y="217">1402</text><text y="231">1302</text><text y="245">1202</text><text y="259">1102</text><text y="273">1002</text><text y="287">902</text><text y="301">802</text><text y="315">702</text><text y="329">602</text><text y="343">502</text><text y="357">402</text><text y="371">302</text><text y="385">202</text><text y="399">102</text><text y="441">84B</text></g>
<g transform="translate(566,0)"><text y="7">2901</text><text y="427">143A</text></g>
<text class="bn" x="566" y="413">213동</text>
</g></g>
</g>

<!-- SECTION 4 -->
<g class="s4" transform="translate(0,1456.5) scale(1,.89071)">
<g id="floors4"><use href="#fln"/>
<g class="fl" transform="translate(35.5,3.6)"><text y="7">29F</text><text y="21">28F</text><text y="35">27F</text><text y="49">26F</text><text y="63">25F</text><text y="77">24F</text><text y="91">23F</text><text y="105">22F</text><text y="119">21F</text><text y="133">20F</text><text y="147">19F</text><text y="161">18F</text><text y="175">17F</text><text y="189">16F</text><text y="203">15F</text><text y="217">14F</text><text y="231">13F</text><text y="245">12F</text><text y="259">11F</text><text y="273">10F</text><text y="287">9F</text><text y="301">8F</text><text y="315">7F</text><text y="329">6F</text><text y="343">5F</text><text y="357">4F</text><text y="371">3F</text><text y="385">2F</text><text y="399">1F</text><text y="434">type</text></g></g>

<g id="b214" class="b">
<rect class="ye" x="60.7" y="266" width="35.8" height="140"/>
<rect class="ly" x="96.5" y="266" width="35.8" height="126"/>
<rect class="ly" x="132.3" y="280" width="35.8" height="112"/>
<rect class="oy" x="168.1" y="280" width="35.8" height="126"/>
<rect class="ly" x="203.9" y="280" width="35.8" height="126"/>
<rect class="ln" x="60.7" y="266" width="71.6" height="140"/><rect class="ln" x="132.3" y="280" width="107.4" height="126"/>
<use href="#x4" x="96.5" y="392"/><use href="#x4" x="132.3" y="392"/>
<rect class="bar" x="60.7" y="406" width="179" height="14"/>
<rect class="ye" x="60.7" y="420" width="35.8" height="28"/><rect class="ly" x="96.5" y="420" width="35.8" height="28"/><rect class="ly" x="132.3" y="420" width="35.8" height="28"/><rect class="oy" x="168.1" y="420" width="35.8" height="28"/><rect class="ly" x="203.9" y="420" width="35.8" height="28"/>
<g class="k" transform="translate(0,3.5)">
<g transform="translate(78.6,0)"><text y="273">1001</text><text y="287">901</text><text y="301">801</text><text y="315">701</text><text y="329">601</text><text y="343">501</text><text y="357">401</text><text y="371">301</text><text y="385">201</text><text y="399">101</text><text y="434">59D</text></g>
<g transform="translate(114.4,0)"><text y="273">1002</text><text y="287">902</text><text y="301">802</text><text y="315">702</text><text y="329">602</text><text y="343">502</text><text y="357">402</text><text y="371">302</text><text y="385">202</text><text y="434">59A</text></g>
<g transform="translate(150.2,0)"><text y="287">903</text><text y="301">803</text><text y="315">703</text><text y="329">603</text><text y="343">503</text><text y="357">403</text><text y="371">303</text><text y="385">203</text><text y="434">59A</text></g>
<g transform="translate(186,0)"><text y="287">904</text><text y="301">804</text><text y="315">704</text><text y="329">604</text><text y="343">504</text><text y="357">404</text><text y="371">304</text><text y="385">204</text><text y="399">104</text><text y="434">59C</text></g>
<g transform="translate(221.8,0)"><text y="287">905</text><text y="301">805</text><text y="315">705</text><text y="329">605</text><text y="343">505</text><text y="357">405</text><text y="371">305</text><text y="385">205</text><text y="399">105</text><text y="434">59A</text></g>
</g>
<g transform="translate(0,3.5)"><text class="bn" x="150.2" y="413">214동</text></g>
</g>

<g id="b215" class="b">
<rect class="gr" x="253.3" y="238" width="35.8" height="168"/><rect class="gr" x="289.1" y="238" width="35.8" height="168"/>
<rect class="gr" x="324.9" y="196" width="35.8" height="210"/><rect class="gr" x="360.7" y="196" width="35.8" height="210"/>
<rect class="ln" x="253.3" y="238" width="71.6" height="168"/><rect class="ln" x="324.9" y="196" width="71.6" height="210"/>
<rect class="bar" x="253.3" y="406" width="143.2" height="14"/>
<rect class="gr" x="253.3" y="420" width="35.8" height="28"/><rect class="gr" x="289.1" y="420" width="35.8" height="28"/><rect class="gr" x="324.9" y="420" width="35.8" height="28"/><rect class="gr" x="360.7" y="420" width="35.8" height="28"/>
<g class="k" transform="translate(0,3.5)">
<g transform="translate(271.2,0)"><text y="245">1201</text><text y="259">1101</text><text y="273">1001</text><text y="287">901</text><text y="301">801</text><text y="315">701</text><text y="329">601</text><text y="343">501</text><text y="357">401</text><text y="371">301</text><text y="385">201</text><text y="399">101</text><text y="434">76A</text></g>
<g transform="translate(307,0)"><text y="245">1202</text><text y="259">1102</text><text y="273">1002</text><text y="287">902</text><text y="301">802</text><text y="315">702</text><text y="329">602</text><text y="343">502</text><text y="357">402</text><text y="371">302</text><text y="385">202</text><text y="399">102</text><text y="434">76A</text></g>
<g transform="translate(342.8,0)"><text y="203">1503</text><text y="217">1403</text><text y="231">1303</text><text y="245">1203</text><text y="259">1103</text><text y="273">1003</text><text y="287">903</text><text y="301">803</text><text y="315">703</text><text y="329">603</text><text y="343">503</text><text y="357">403</text><text y="371">303</text><text y="385">203</text><text y="399">103</text><text y="434">76A</text></g>
<g transform="translate(378.6,0)"><text y="203">1504</text><text y="217">1404</text><text y="231">1304</text><text y="245">1204</text><text y="259">1104</text><text y="273">1004</text><text y="287">904</text><text y="301">804</text><text y="315">704</text><text y="329">604</text><text y="343">504</text><text y="357">404</text><text y="371">304</text><text y="385">204</text><text y="399">104</text><text y="434">76A</text></g>
</g>
<g transform="translate(0,3.5)"><text class="bn" x="324.9" y="413">215동</text></g>
</g>

<g id="b216" class="b">
<rect class="lb" x="407.7" y="0" width="35.8" height="378"/><rect class="gd" x="407.7" y="378" width="35.8" height="14"/>
<rect class="pk" x="443.5" y="0" width="35.8" height="392"/>
<rect class="db" x="479.3" y="56" width="35.8" height="322"/><rect class="tl" x="479.3" y="378" width="35.8" height="14"/>
<rect class="db" x="515.1" y="56" width="35.8" height="322"/><rect class="tl" x="515.1" y="378" width="35.8" height="14"/>
<rect class="ln" x="407.7" y="0" width="71.6" height="392"/><rect class="ln" x="479.3" y="56" width="71.6" height="336"/>
<use href="#x4" x="407.7" y="392"/><use href="#x4" x="443.5" y="392"/><use href="#x4" x="479.3" y="392"/><use href="#x4" x="515.1" y="392"/>
<rect class="bar" x="407.7" y="406" width="143.2" height="14"/>
<rect class="lb" x="407.7" y="420" width="35.8" height="14"/><rect class="gd" x="407.7" y="434" width="35.8" height="14"/>
<rect class="pk" x="443.5" y="420" width="35.8" height="28"/>
<rect class="db" x="479.3" y="420" width="35.8" height="14"/><rect class="tl" x="479.3" y="434" width="35.8" height="14"/>
<rect class="db" x="515.1" y="420" width="35.8" height="14"/><rect class="tl" x="515.1" y="434" width="35.8" height="14"/>
<g class="w" transform="translate(0,3.5)">
<g transform="translate(425.6,0)"><text y="7">2901</text><text y="21">2801</text><text y="35">2701</text><text y="49">2601</text><text y="63">2501</text><text y="77">2401</text><text y="91">2301</text><text y="105">2201</text><text y="119">2101</text><text y="133">2001</text><text y="147">1901</text><text y="161">1801</text><text y="175">1701</text><text y="189">1601</text><text y="203">1501</text><text y="217">1401</text><text y="231">1301</text><text y="245">1201</text><text y="259">1101</text><text y="273">1001</text><text y="287">901</text><text y="301">801</text><text y="315">701</text><text y="329">601</text><text y="343">501</text><text y="357">401</text><text y="371">301</text><text y="385">201</text><text y="427">84A</text><text y="441">84G</text></g>
<g transform="translate(461.4,0)"><text y="7">2902</text><text y="21">2802</text><text y="35">2702</text><text y="49">2602</text><text y="63">2502</text><text y="77">2402</text><text y="91">2302</text><text y="105">2202</text><text y="119">2102</text><text y="133">2002</text><text y="147">1902</text><text y="161">1802</text><text y="175">1702</text><text y="189">1602</text><text y="203">1502</text><text y="217">1402</text><text y="231">1302</text><text y="245">1202</text><text y="259">1102</text><text y="273">1002</text><text y="287">902</text><text y="301">802</text><text y="315">702</text><text y="329">602</text><text y="343">502</text><text y="357">402</text><text y="371">302</text><text y="385">202</text><text y="434">84D</text></g>
<g transform="translate(497.2,0)"><text y="63">2503</text><text y="77">2403</text><text y="91">2303</text><text y="105">2203</text><text y="119">2103</text><text y="133">2003</text><text y="147">1903</text><text y="161">1803</text><text y="175">1703</text><text y="189">1603</text><text y="203">1503</text><text y="217">1403</text><text y="231">1303</text><text y="245">1203</text><text y="259">1103</text><text y="273">1003</text><text y="287">903</text><text y="301">803</text><text y="315">703</text><text y="329">603</text><text y="343">503</text><text y="357">403</text><text y="371">303</text><text y="385">203</text><text y="427">84B</text><text y="441">84H</text></g>
<g transform="translate(533,0)"><text y="63">2504</text><text y="77">2404</text><text y="91">2304</text><text y="105">2204</text><text y="119">2104</text><text y="133">2004</text><text y="147">1904</text><text y="161">1804</text><text y="175">1704</text><text y="189">1604</text><text y="203">1504</text><text y="217">1404</text><text y="231">1304</text><text y="245">1204</text><text y="259">1104</text><text y="273">1004</text><text y="287">904</text><text y="301">804</text><text y="315">704</text><text y="329">604</text><text y="343">504</text><text y="357">404</text><text y="371">304</text><text y="385">204</text><text y="427">84B</text><text y="441">84H</text></g>
<text class="bn" x="479.3" y="413">216동</text>
</g></g>
</g>
</svg>
